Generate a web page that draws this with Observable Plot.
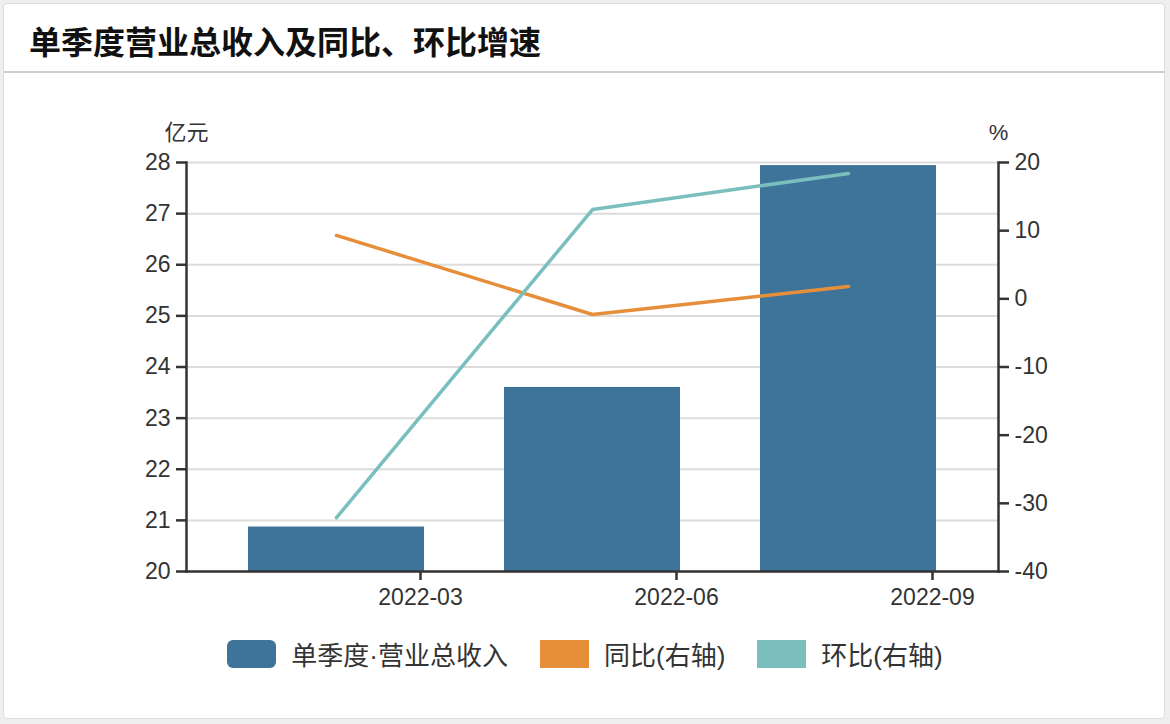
<!DOCTYPE html>
<html>
<head>
<meta charset="utf-8">
<script src="https://cdn.jsdelivr.net/npm/d3@7"></script>
<script src="https://cdn.jsdelivr.net/npm/@observablehq/plot@0.6"></script>
<style>
  html, body { margin: 0; padding: 0; background: #eeeeee; }
  body { width: 1170px; height: 724px; position: relative; overflow: hidden; font-family: "Liberation Sans", Arial, "Noto Sans CJK SC", sans-serif; }
  #card { position: absolute; left: 3px; top: 3px; width: 1160px; height: 714px; background: #fff; border: 1px solid #dcdcdc; border-radius: 4px; }
  #title { position: absolute; left: 29px; top: 17px; font-family: "Noto Sans CJK SC", sans-serif; font-weight: 700; font-size: 32px; line-height: 46px; color: #111; }
  #rule { position: absolute; left: 4px; top: 71px; width: 1161px; height: 2px; background: #cfcfcf; }
  #chart { position: absolute; left: 0; top: 80px; }
  #legend { position: absolute; left: 0; top: 635px; width: 1170px; display: flex; justify-content: center; align-items: center; font-family: "Liberation Sans", "Noto Sans CJK SC", sans-serif; font-size: 26px; color: #333; }
  .item { display: flex; align-items: center; margin: 0 16px; }
  .sw { width: 49px; height: 28px; margin-right: 15px; }
</style>
</head>
<body>
<div id="card"></div>
<div id="title">单季度营业总收入及同比、环比增速</div>
<div id="rule"></div>
<div id="chart"></div>
<div id="legend"></div>
<script>
const quarters = ["2022-03", "2022-06", "2022-09"];
const revenue = [20.87, 23.60, 27.94];   // 亿元
const yoy = [9.3, -2.3, 1.8];           // 同比 %
const qoq = [-32.1, 13.1, 18.4];        // 环比 %
const leftTicks = [20, 21, 22, 23, 24, 25, 26, 27, 28];
const rightTicks = [-40, -30, -20, -10, 0, 10, 20];
const seriesNames = ["单季度·营业总收入", "同比(右轴)", "环比(右轴)"];
const colors = ["#3E7499", "#E68F3A", "#7BBEBE"];

const toLeft = d3.scaleLinear().domain([-40, 20]).range([20, 28]);
const revData = quarters.map((q, i) => ({q, v: revenue[i]}));
const yoyData = quarters.map((q, i) => ({q, v: yoy[i]}));
const qoqData = quarters.map((q, i) => ({q, v: qoq[i]}));

const axisStyle = {fontSize: 23, tickSize: 10, tickPadding: 6, strokeWidth: 2.5};

const chart = Plot.plot({
  width: 1170,
  height: 545,
  marginLeft: 186,
  marginRight: 172,
  marginTop: 82,
  marginBottom: 54,
  style: {fontFamily: "'Liberation Sans', Arial, sans-serif", color: "#333", background: "transparent"},
  x: {type: "band", domain: quarters, paddingInner: 0.3125, paddingOuter: 0.242, align: 0.5},
  y: {domain: [20, 28]},
  marks: [
    Plot.gridY(leftTicks, {stroke: "#dcdcdc", strokeOpacity: 1, strokeWidth: 2}),
    Plot.barY(revData, {x: "q", y1: () => 20, y2: "v", fill: colors[0]}),
    Plot.line(yoyData, {x: "q", y: d => toLeft(d.v), stroke: colors[1], strokeWidth: 3.5, strokeLinejoin: "miter"}),
    Plot.line(qoqData, {x: "q", y: d => toLeft(d.v), stroke: colors[2], strokeWidth: 3.5, strokeLinejoin: "miter"}),
    Plot.axisY(leftTicks, {anchor: "left", label: null, tickFormat: d => String(d), ...axisStyle}),
    Plot.axisY(rightTicks.map(v => toLeft(v)), {anchor: "right", label: null, tickFormat: d => String(Math.round(toLeft.invert(d))), ...axisStyle}),
    Plot.axisX({anchor: "bottom", label: null, fontSize: 23, tickSize: 9, tickPadding: 8, strokeWidth: 2.5, dx: 84}),
    Plot.frame({anchor: "left", stroke: "#333", strokeWidth: 2.5}),
    Plot.frame({anchor: "right", stroke: "#333", strokeWidth: 2.5}),
    Plot.frame({anchor: "bottom", stroke: "#333", strokeWidth: 2.5}),
    Plot.text(["亿元"], {text: d => d, frameAnchor: "top-left", dy: -38, textAnchor: "middle", fontSize: 22, fontFamily: "'Noto Sans CJK SC', sans-serif", fill: "#333"}),
    Plot.text(["%"], {text: d => d, frameAnchor: "top-right", dy: -38, textAnchor: "middle", fontSize: 22, fill: "#333"})
  ]
});
document.getElementById("chart").appendChild(chart);

const legend = document.getElementById("legend");
seriesNames.forEach((name, i) => {
  const item = document.createElement("div");
  item.className = "item";
  const sw = document.createElement("div");
  sw.className = "sw";
  sw.style.background = colors[i];
  if (i === 0) sw.style.borderRadius = "6px";
  const t = document.createElement("span");
  t.textContent = name;
  item.appendChild(sw);
  item.appendChild(t);
  legend.appendChild(item);
});
</script>
</body>
</html>
